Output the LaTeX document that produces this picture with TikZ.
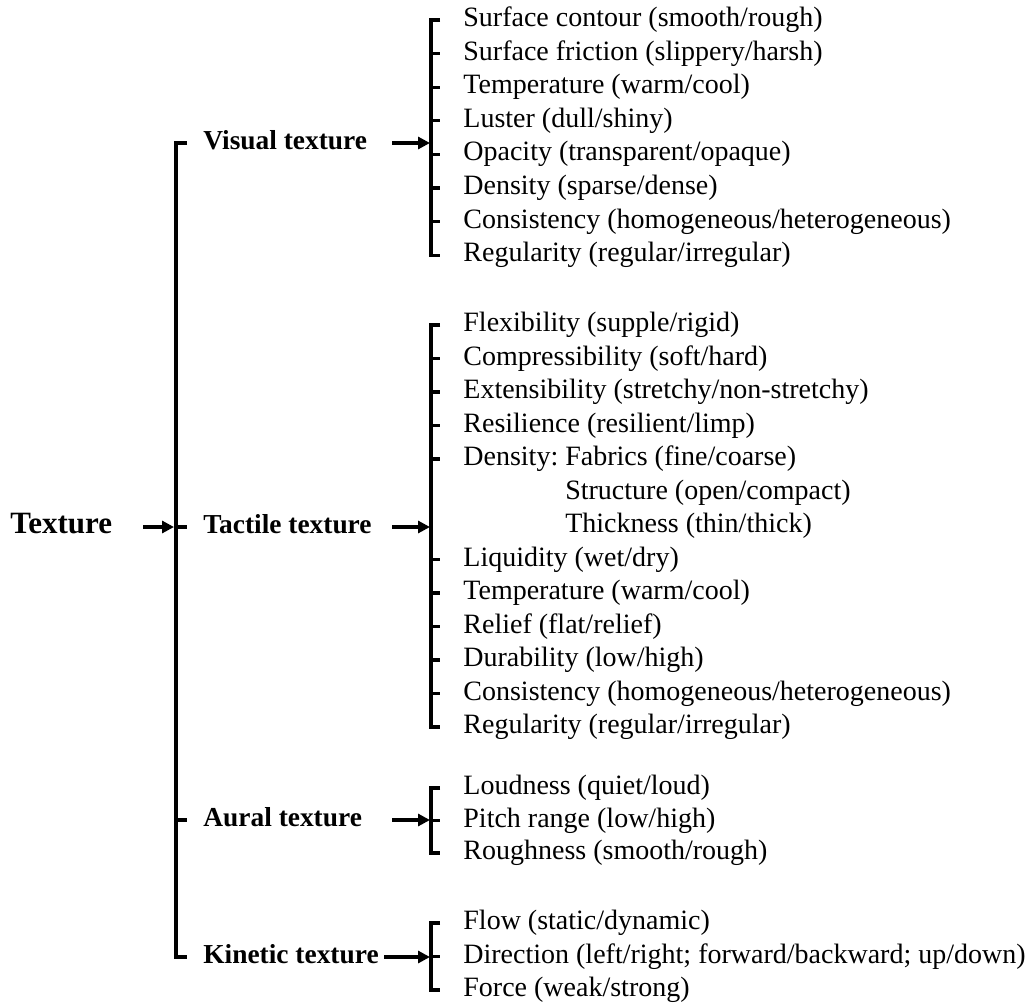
\documentclass[tikz,border=0pt]{standalone}
\usepackage{fontspec}
\setmainfont{Liberation Serif}
\usetikzlibrary{arrows.meta}
\frenchspacing
\tikzset{
  brk/.style={line width=1.6pt, line cap=butt, line join=miter},
  arr/.style={line width=1.6pt, -{Triangle[length=6pt,width=6pt]}},
  item/.style={anchor=west, inner sep=0pt, font=\fontsize{14}{16}\selectfont, text height=0.66em, text depth=0pt},
  cat/.style={anchor=west, inner sep=0pt, font=\fontsize{13.7}{16}\selectfont\bfseries, text height=0.66em, text depth=0pt},
}
\begin{document}
\begin{tikzpicture}[x=0.5pt,y=-0.5pt]
\useasboundingbox (0,0) rectangle (1027,1006);
% root and main bracket:
\node[cat, font=\fontsize{15.5}{18}\selectfont\bfseries] (texture) at (10,527) {Texture};
\node[cat] (visual) at (203,143) {Visual texture};
\node[cat] (tactile) at (203,527) {Tactile texture};
\node[cat] (aural) at (203,820) {Aural texture};
\node[cat] (kinetic) at (203,957) {Kinetic texture};
\draw[brk] (visual.west -| 187,0) -- (visual.west -| 176,0) -- (kinetic.west -| 176,0) -- (kinetic.west -| 187,0);
\draw[brk] (tactile.west -| 176,0) -- (tactile.west -| 187,0);
\draw[brk] (aural.west -| 176,0) -- (aural.west -| 187,0);
\coordinate (main-in) at (174,527);
\draw[arr] (texture.east -| 143,0) -- (main-in);
% visual items:
\foreach \t [count=\i from 0] in {{Surface contour (smooth/rough)}, {Surface friction (slippery/harsh)},
  {Temperature (warm/cool)}, {Luster (dull/shiny)}, {Opacity (transparent/opaque)},
  {Density (sparse/dense)}, {Consistency (homogeneous/heterogeneous)}, {Regularity (regular/irregular)}}
  \node[item] (v\i) at (463,20+33.6*\i) {\t};
\draw[brk] (v0.west -| 440,0) -- (v0.west -| 431,0) -- (v7.west -| 431,0) -- (v7.west -| 440,0);
\foreach \i in {1,...,6} \draw[brk] (v\i.west -| 431,0) -- (v\i.west -| 440,0);
\coordinate (vis-in) at (430,143);
\draw[arr] (visual.east -| 392,0) -- (vis-in);
% tactile items:
\foreach \t [count=\i from 0] in {{Flexibility (supple/rigid)}, {Compressibility (soft/hard)},
  {Extensibility (stretchy/non-stretchy)}, {Resilience (resilient/limp)}, {Density: Fabrics (fine/coarse)},
  {\hphantom{Density: }Structure (open/compact)}, {\hphantom{Density: }Thickness (thin/thick)},
  {Liquidity (wet/dry)}, {Temperature (warm/cool)}, {Relief (flat/relief)}, {Durability (low/high)},
  {Consistency (homogeneous/heterogeneous)}, {Regularity (regular/irregular)}}
  \node[item] (t\i) at (463,325+33.5*\i) {\t};
\draw[brk] (t0.west -| 440,0) -- (t0.west -| 431,0) -- (t12.west -| 431,0) -- (t12.west -| 440,0);
\foreach \i in {1,2,3,4,7,8,9,10,11} \draw[brk] (t\i.west -| 431,0) -- (t\i.west -| 440,0);
\coordinate (tac-in) at (430,527);
\draw[arr] (tactile.east -| 392,0) -- (tac-in);
% aural items:
\foreach \t [count=\i from 0] in {{Loudness (quiet/loud)}, {Pitch range (low/high)}, {Roughness (smooth/rough)}}
  \node[item] (a\i) at (463,788+32.5*\i) {\t};
\draw[brk] (a0.west -| 440,0) -- (a0.west -| 431,0) -- (a2.west -| 431,0) -- (a2.west -| 440,0);
\draw[brk] (a1.west -| 431,0) -- (a1.west -| 440,0);
\coordinate (aur-in) at (430,820);
\draw[arr] (aural.east -| 392,0) -- (aur-in);
% kinetic items:
\foreach \t [count=\i from 0] in {{Flow (static/dynamic)}, {Direction (left/right; forward/backward; up/down)}, {Force (weak/strong)}}
  \node[item] (k\i) at (463,923+33.5*\i) {\t};
\draw[brk] (k0.west -| 440,0) -- (k0.west -| 431,0) -- (k2.west -| 431,0) -- (k2.west -| 440,0);
\draw[brk] (k1.west -| 431,0) -- (k1.west -| 440,0);
\coordinate (kin-in) at (430,957);
\draw[arr] (kinetic.east -| 384,0) -- (kin-in);
\end{tikzpicture}
\end{document}
